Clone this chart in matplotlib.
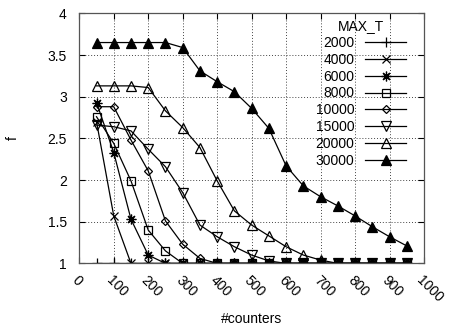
"""
plot.py - f vs #counters for several MAX_T values (gnuplot-style line/point chart).
Output: out.png (453x326)
"""

import matplotlib
matplotlib.use("Agg")
import matplotlib.pyplot as plt

plt.rcParams["font.family"] = ["Liberation Sans", "DejaVu Sans"]

COUNTERS = [50, 100, 150, 200, 250, 300, 350, 400, 450, 500,
            550, 600, 650, 700, 750, 800, 850, 900, 950]

F_2000 = [1.0] * 19
F_4000 = [2.70, 1.57] + [1.0] * 17
F_6000 = [2.93, 2.33, 1.53, 1.10] + [1.0] * 15
F_8000 = [2.76, 2.44, 1.99, 1.40, 1.15] + [1.0] * 14
F_10000 = [2.88, 2.88, 2.48, 2.11, 1.51, 1.23, 1.06] + [1.0] * 12
F_15000 = [2.66, 2.64, 2.59, 2.37, 2.16, 1.85, 1.46, 1.32, 1.20, 1.10,
           1.03] + [1.0] * 8
F_20000 = [3.13, 3.13, 3.13, 3.11, 2.83, 2.63, 2.39, 1.99, 1.63, 1.46,
           1.33, 1.20, 1.10, 1.04] + [1.0] * 5
F_30000 = [3.65, 3.65, 3.65, 3.65, 3.65, 3.59, 3.31, 3.18, 3.06, 2.86,
           2.62, 2.17, 1.93, 1.80, 1.69, 1.57, 1.44, 1.32, 1.21]

LABELS = ["2000", "4000", "6000", "8000", "10000", "15000", "20000", "30000"]
SERIES = [F_2000, F_4000, F_6000, F_8000, F_10000, F_15000, F_20000, F_30000]
# (marker, size, filled) - gnuplot point types 1..9-ish
STYLES = [("+", 7.5, False), ("x", 6, False), ((8, 2, 0), 7, False), ("s", 5.5, False),
          ("D", 3.8, False), ("v", 7.5, False), ("^", 7.5, False), ("^", 7.5, True)]

X_TICKS = list(range(0, 1001, 100))
Y_TICKS = [1, 1.5, 2, 2.5, 3, 3.5, 4]
Y_TICK_LABELS = ["1", "1.5", "2", "2.5", "3", "3.5", "4"]


def main():
    fig = plt.figure(figsize=(4.53, 3.26), dpi=100)
    ax = fig.add_axes([0.175, 0.192, 0.761, 0.767])

    for lab, ys, (m, ms, filled) in zip(LABELS, SERIES, STYLES):
        ax.plot(COUNTERS, ys, color="black", lw=0.9, marker=m, markersize=ms,
                markerfacecolor="black" if filled else "none",
                markeredgecolor="black", markeredgewidth=0.9, label=lab)

    ax.set_xlim(0, 1000)
    ax.set_ylim(1, 4)
    ax.set_xticks(X_TICKS)
    ax.set_xticklabels([str(t) for t in X_TICKS], rotation=-45, ha="left",
                       va="top", rotation_mode="anchor")
    ax.set_yticks(Y_TICKS)
    ax.set_yticklabels(Y_TICK_LABELS)
    ax.tick_params(direction="in", top=True, right=True, labelsize=10,
                   length=4, width=0.8)
    ax.tick_params(axis="y", pad=9)
    ax.tick_params(axis="x", pad=7)
    ax.grid(True, linestyle=(0, (1, 2)), color="#444444", lw=0.7)
    for sp in ax.spines.values():
        sp.set_linewidth(0.9)
        sp.set_color("#555555")

    ax.set_xlabel("#counters", fontsize=10, va="center")
    ax.xaxis.set_label_coords(0.5, -0.223)
    ax.set_ylabel("f", fontsize=10, va="center")
    ax.yaxis.set_label_coords(-0.192, 0.5)

    ax.legend(title="MAX_T", loc="upper right", bbox_to_anchor=(0.947, 0.976),
              frameon=False, markerfirst=False, handlelength=2.9,
              labelspacing=0.2, fontsize=10, title_fontsize=10,
              borderaxespad=0, borderpad=0, handletextpad=0.8)

    fig.savefig("out.png", dpi=100)
    plt.close(fig)


if __name__ == "__main__":
    main()
